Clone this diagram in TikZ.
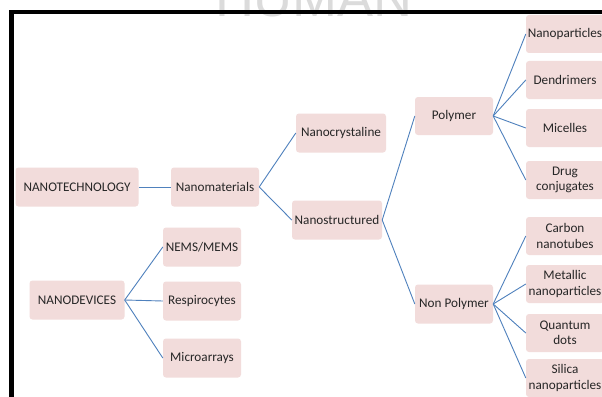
\documentclass[tikz,border=0pt]{standalone}
\usepackage{fontspec}
\setmainfont{Carlito}
\newfontfamily\wmfont{Liberation Sans}
\definecolor{boxfill}{HTML}{F2DCDB}
\definecolor{edgeblue}{HTML}{4F81BD}
\definecolor{txt}{HTML}{262626}
\tikzset{
  bx/.style={draw=none, fill=boxfill, rounded corners=3pt, align=center,
    font=\fontsize{13.2}{15.5}\selectfont, text=txt, inner sep=0pt,
    minimum height=39pt},
  lnk/.style={draw=edgeblue, line width=0.9pt},
}
\begin{document}
\begin{tikzpicture}[x=1pt,y=-1pt]
\useasboundingbox (0,0) rectangle (602,396);
\clip (0,0) rectangle (602,396);
\fill[white] (0,0) rectangle (602,396);
% watermark
\node[anchor=base, font=\wmfont\fontsize{54}{54}\selectfont, text=black!14, inner sep=0pt] (wm) at (314,17) {HUMAN};
% nodes
\node[bx, minimum width=123pt] (ntech) at (77,187) {NANOTECHNOLOGY};
\node[bx, minimum width=88pt] (nmat) at (215,187) {Nanomaterials};
\node[bx, minimum width=95pt] (ndev) at (77,300) {NANODEVICES};
\node[bx, minimum width=78pt] (nems) at (202,247) {NEMS/MEMS};
\node[bx, minimum width=78pt] (resp) at (202,301) {Respirocytes};
\node[bx, minimum width=78pt] (micro) at (202,358) {Microarrays};
\node[bx, minimum width=90pt] (ncry) at (341,133) {Nanocrystaline};
\node[bx, minimum width=90pt] (nstr) at (337,220) {Nanostructured};
\node[bx, minimum width=78pt, minimum height=38pt] (poly) at (454,116) {Polymer};
\node[bx, minimum width=78pt] (npoly) at (454,304) {Non Polymer};
\node[bx, minimum width=78pt, minimum height=38pt] (np) at (565,34) {Nanoparticles};
\node[bx, minimum width=78pt, minimum height=38pt] (den) at (565,80) {Dendrimers};
\node[bx, minimum width=78pt, minimum height=38pt] (mic) at (565,128) {Micelles};
\node[bx, minimum width=78pt, minimum height=38pt] (drug) at (565,180) {Drug\\conjugates};
\node[bx, minimum width=78pt, minimum height=38pt] (carb) at (565,236) {Carbon\\nanotubes};
\node[bx, minimum width=78pt, minimum height=38pt] (metal) at (565,284) {Metallic\\nanoparticles};
\node[bx, minimum width=78pt, minimum height=38pt] (quant) at (565,333) {Quantum\\dots};
\node[bx, minimum width=78pt, minimum height=38pt] (sil) at (565,378) {Silica\\nanoparticles};
% links
\draw[lnk] (ntech.east) -- (nmat.west);
\draw[lnk] (nmat.east) -- (ncry.west);
\draw[lnk] (nmat.east) -- (nstr.west);
\draw[lnk] (nstr.east) -- (poly.west);
\draw[lnk] (nstr.east) -- (npoly.west);
\foreach \c in {np,den,mic,drug} \draw[lnk] (poly.east) -- (\c.west);
\foreach \c in {carb,metal,quant,sil} \draw[lnk] (npoly.east) -- (\c.west);
\foreach \c in {nems,resp,micro} \draw[lnk] (ndev.east) -- (\c.west);
% frame
\draw[line width=4.5pt, line cap=rect] (11.5,400) -- (11.5,12) -- (610,12);
\end{tikzpicture}
\end{document}
